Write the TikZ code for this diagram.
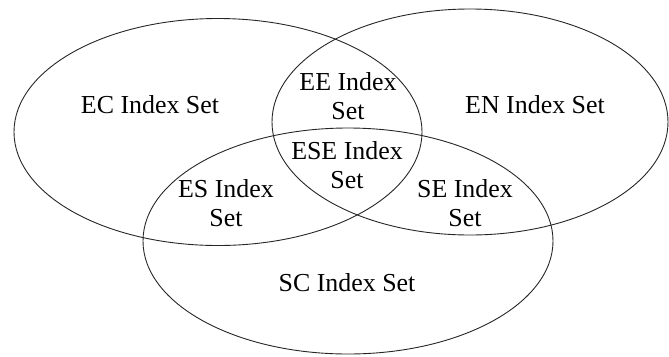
\documentclass[tikz,border=0pt]{standalone}
\usepackage{fontspec}
\setmainfont{Liberation Serif}
\usetikzlibrary{shapes.geometric,positioning}

\begin{document}
\begin{tikzpicture}[x=1bp,y=-1bp]
\tikzstyle{set}=[ellipse, draw=black!85, line width=0.9bp, inner sep=0pt, minimum width=408bp, minimum height=227bp]
\tikzstyle{lbl}=[align=center, inner sep=0pt, font=\fontsize{26}{29}\selectfont]

\useasboundingbox (0,0) rectangle (669,356);

% the three sets
\node[set] (ec) at (218,132) {};
\node[set, minimum width=396bp, minimum height=226bp] (en) at (470,122) {};
\node[set, minimum width=410bp, minimum height=226bp] (sc) at (348,241) {};

% labels
\node[lbl] (ecl) at (150,105) {EC Index Set};
\node[lbl] (enl) at (535,105) {EN Index Set};
\node[lbl] (scl) at (347,283) {SC Index Set};
\node[lbl] (ee) at (348,96) {EE Index\\Set};
\node[lbl] (ese) at (347,165) {ESE Index\\Set};
\node[lbl] (es) at (226,203) {ES Index\\Set};
\node[lbl] (se) at (465,203) {SE Index\\Set};
\end{tikzpicture}
\end{document}
